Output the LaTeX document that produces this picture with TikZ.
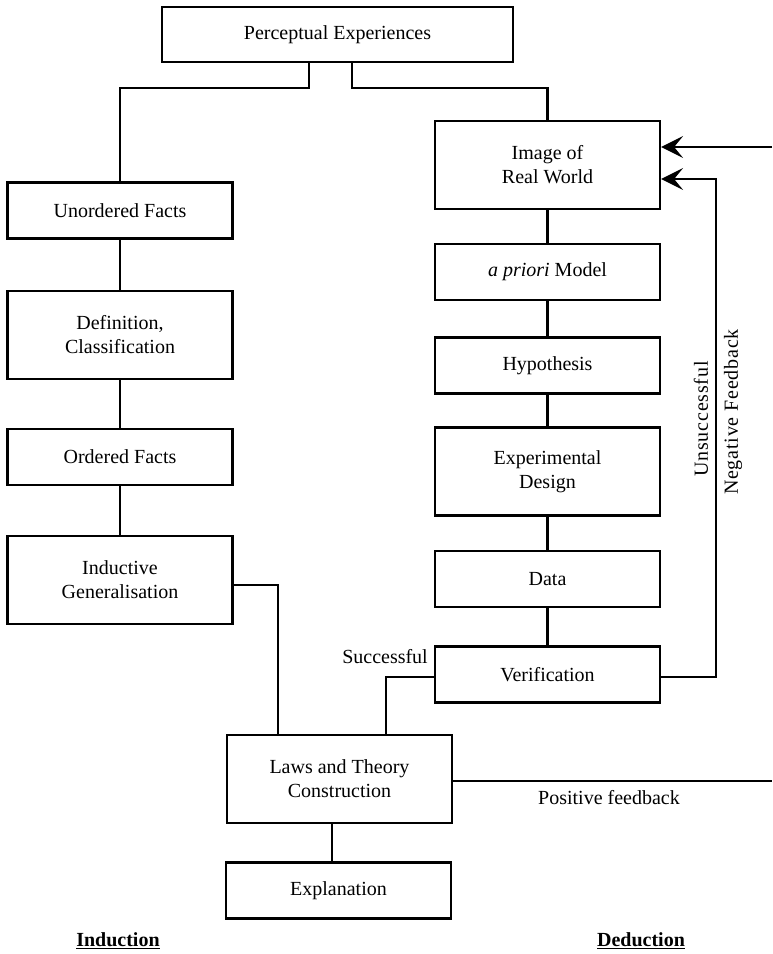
\documentclass[tikz,border=0pt]{standalone}
\usepackage{fontspec}
\setmainfont{Liberation Serif}
\newfontfamily\spacedserif[LetterSpace=4]{Liberation Serif}
\usetikzlibrary{arrows.meta}
\begin{document}
\begin{tikzpicture}[x=1pt,y=-1pt,
  font=\fontsize{20}{24}\selectfont,
  box/.style={draw, line width=2.2pt, minimum width=225pt, align=center, inner sep=0pt},
  shortbox/.style={box, minimum height=56pt},
  tallbox/.style={box, minimum height=88pt},
  link/.style={line width=2.2pt},
  fb/.style={link, -{Stealth[length=22pt,width=22pt,inset=9pt]}},
  lbl/.style={inner sep=0pt}]
\useasboundingbox (0,0) rectangle (772,954);

% upper node
\node[box, minimum width=351pt, minimum height=55pt] (pe) at (337.5,34.5) {Perceptual Experiences};

% induction column
\node[shortbox] (unord) at (120,210.5) {Unordered Facts};
\node[tallbox]  (defn)  at (120,335) {Definition,\\Classification};
\node[shortbox] (ord)   at (120,457) {Ordered Facts};
\node[tallbox]  (ind)   at (120,580) {Inductive\\Generalisation};

% deduction column
\node[tallbox]  (img)   at (547.5,165)   {Image of\\Real World};
\node[shortbox] (apri)  at (547.5,272)   {\textit{a priori} Model};
\node[shortbox] (hyp)   at (547.5,365.5) {Hypothesis};
\node[tallbox]  (exp)   at (547.5,471.5) {Experimental\\Design};
\node[shortbox] (data)  at (547.5,579)   {Data};
\node[shortbox] (ver)   at (547.5,674.5) {Verification};

% synthesis
\node[tallbox]  (laws)  at (339.5,779) {Laws and Theory\\Construction};
\node[shortbox] (expl)  at (338.5,890.5) {Explanation};

% free ends at the right margin
\coordinate (rtop) at (772,147);
\coordinate (rpos) at (772,781);

% branches from the top node
\draw[link] ([xshift=-28.5pt]pe.south) -- ++(0,25) -| (unord.north);
\draw[link] ([xshift=14.5pt]pe.south) -- ++(0,25) -| (img.north);

% induction chain
\draw[link] (unord) -- (defn);
\draw[link] (defn) -- (ord);
\draw[link] (ord) -- (ind);
\draw[link] ([yshift=-5pt]ind.east) -| ([xshift=-61.5pt]laws.north);

% deduction chain
\draw[link] (img) -- (apri);
\draw[link] (apri) -- (hyp);
\draw[link] (hyp) -- (exp);
\draw[link] (exp) -- (data);
\draw[link] (data) -- (ver);
\draw[link] ([yshift=-2.5pt]ver.west) -| ([xshift=46.5pt]laws.north);

% feedback loops
\draw[fb] ([yshift=-2.5pt]ver.east) -| (716,179) -- (img.east |- 0,179);
\draw[fb] (rtop) -- (img.east |- rtop);
\draw[link] (laws.east |- rpos) -- (rpos);

% laws to explanation
\draw[link] ([xshift=-7.5pt]laws.south) -- ([xshift=-6.5pt]expl.north);

% labels
\node[lbl, anchor=east] (succ) at (428,657) {Successful};
\node[lbl] (pos) at (609,798) {Positive feedback};
\node[lbl, rotate=90] (unsucc) at (701,419) {\spacedserif Unsuccessful};
\node[lbl, rotate=90] (neg) at (733,412) {\spacedserif Negative Feedback};
\node[lbl] (indlab) at (118,941) {\underline{\textbf{Induction}}};
\node[lbl] (dedlab) at (641,941) {\underline{\textbf{Deduction}}};
\end{tikzpicture}
\end{document}
